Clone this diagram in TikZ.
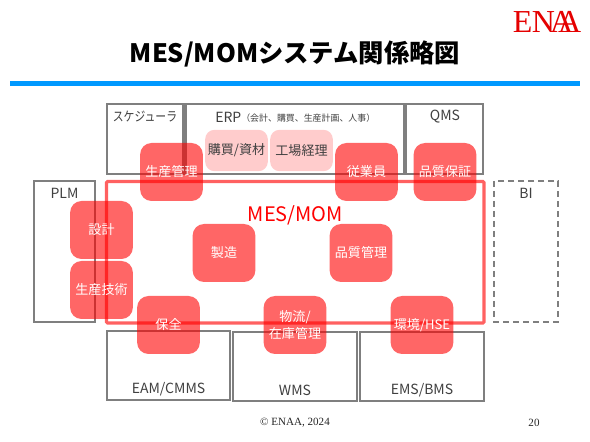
\documentclass[tikz,border=0pt]{standalone}
\usepackage{fontspec}
\setmainfont{Noto Sans CJK JP}
\newfontfamily\serifen{Liberation Serif}
\newfontfamily\narrowjp[FakeStretch=0.82]{Noto Sans CJK JP}
\definecolor{graybox}{HTML}{7F7F7F}
\definecolor{bluebar}{HTML}{0099FF}
\definecolor{inktext}{HTML}{404040}
\tikzset{
  px/.style={x=0.75pt,y=-0.75pt},
  sysbox/.style={draw=graybox,line width=1.6pt,fill=none},
  dashbox/.style={draw=graybox,line width=1.7pt,dash pattern=on 4.5pt off 3pt},
  momframe/.style={draw=red,draw opacity=0.62,line width=2.3pt,rounded corners=0.8pt},
  fnred/.style={fill=red,fill opacity=0.6,text opacity=1,draw=none,rounded corners=8.5pt,
    text=white,align=center,inner sep=0pt,font=\fontsize{9.8pt}{12.5pt}\selectfont,
    minimum width=47pt,minimum height=43.5pt},
  fnpale/.style={fill=red,fill opacity=0.2,text opacity=1,draw=none,rounded corners=7pt,
    text=inktext,inner sep=0pt,font=\fontsize{9.8pt}{12pt}\selectfont,
    minimum width=47pt,minimum height=31pt},
  syslabel/.style={text=inktext,inner sep=0pt,font=\fontsize{10.5pt}{12pt}\selectfont},
}
\begin{document}
\begin{tikzpicture}[px]
\useasboundingbox (0,0) rectangle (590,442);
\fill[white] (0,0) rectangle (590,442);
% header
\node[inner sep=0pt,text=red!90!black,font=\serifen\fontsize{24pt}{24pt}\selectfont] (logo) at (547,21.5) {E\kern-0.5pt N\kern-3.5pt A\kern-11.5pt A};
\node[inner sep=0pt,text=black,font=\bfseries\fontsize{19pt}{23pt}\selectfont] (title) at (295,53.5) {MES/MOMシステム関係略図};
\fill[bluebar] (10,81) rectangle (580,86);
% system boxes
\draw[sysbox] (107,104) rectangle (183.5,174);
\draw[sysbox] (185.5,104) rectangle (404,174);
\draw[sysbox] (406,104) rectangle (483,174);
\draw[sysbox] (34,181) rectangle (95,322);
\draw[dashbox] (494,181) rectangle (558,322);
\draw[sysbox] (107,331) rectangle (230,400);
\draw[sysbox] (233,332) rectangle (357,401);
\draw[sysbox] (360,332) rectangle (484,401);
\node[syslabel,font=\narrowjp\fontsize{9.9pt}{12pt}\selectfont] (sched) at (145,116.5) {スケジューラ};
\node[syslabel,anchor=west] (erp) at (215,117) {ERP};
\node[syslabel,anchor=west,font=\fontsize{6.7pt}{9pt}\selectfont] (erpsub) at (241,118) {（会計、購買、生産計画、人事）};
\node[syslabel] (qms) at (445,117) {QMS};
\node[syslabel] (plm) at (64.5,193) {PLM};
\node[syslabel] (bi) at (526,193) {BI};
\node[syslabel] (eam) at (168.5,389) {EAM/CMMS};
\node[syslabel] (wms) at (295,390) {WMS};
\node[syslabel] (ems) at (422,390) {EMS/BMS};
% MES/MOM frame
\draw[momframe] (106.5,181.5) rectangle (484,323);
\node[inner sep=0pt,text=red,font=\fontsize{15pt}{17pt}\selectfont] (mom) at (295.5,215) {MES/MOM};
% function boxes
\node[fnpale] (buy) at (236.5,150.5) {購買/資材};
\node[fnpale] (fac) at (301.5,150.5) {工場経理};
\node[fnred] (prodm) at (171.5,172) {生産管理};
\node[fnred] (staff) at (366.5,172) {従業員};
\node[fnred] (qa) at (445,172) {品質保証};
\node[fnred] (des) at (101.5,230) {設計};
\node[fnred] (pe) at (101.5,290) {生産技術};
\node[fnred] (mfg) at (224,253) {製造};
\node[fnred] (qm) at (361,253) {品質管理};
\node[fnred] (mnt) at (168.5,325) {保全};
\node[fnred] (log) at (295,325) {物流/\\在庫管理};
\node[fnred] (env) at (422,325) {環境/HSE};
% footer
\node[inner sep=0pt,text=black!85,font=\serifen\fontsize{8.3pt}{10pt}\selectfont] (copy) at (295,423) {© ENAA, 2024};
\node[inner sep=0pt,text=black!85,font=\serifen\fontsize{8.3pt}{10pt}\selectfont] (page) at (534,423) {20};
\end{tikzpicture}
\end{document}
